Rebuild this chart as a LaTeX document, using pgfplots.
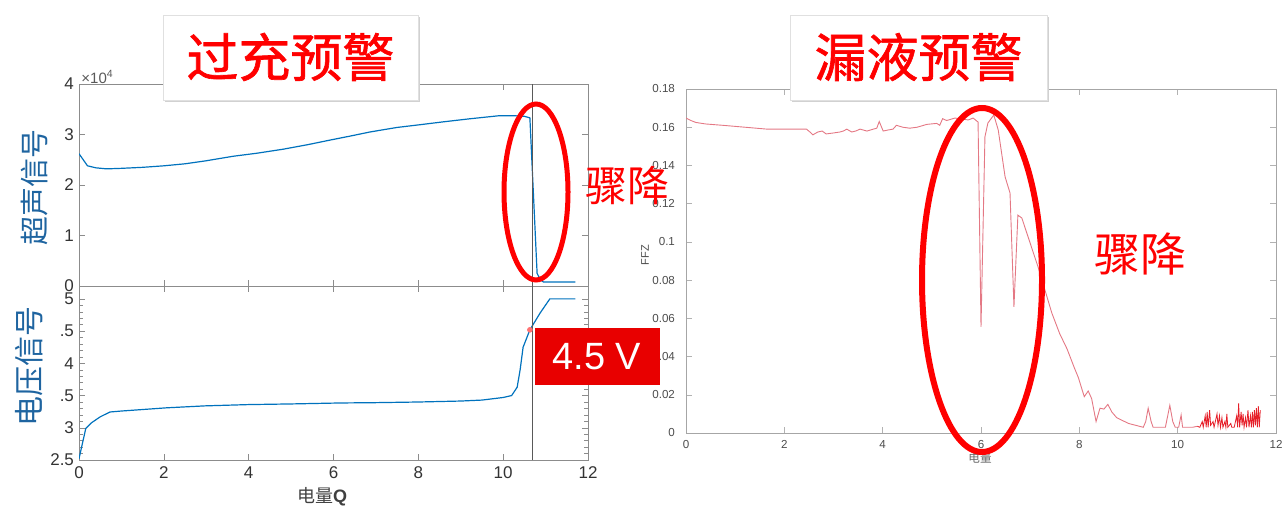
\documentclass[border=0pt]{standalone}
\usepackage{pgfplots}
\pgfplotsset{compat=1.18}
\usepackage{fontspec}
\setmainfont{Liberation Sans}
\newfontfamily\cjk{Noto Sans CJK SC}
\newfontfamily\cjktitle[FakeBold=1.2]{Noto Sans CJK SC}

\definecolor{mblue}{rgb}{0,0.447,0.741}
\definecolor{lblue}{RGB}{30,100,160}
\definecolor{ffzred}{RGB}{228,120,132}
\definecolor{spikered}{RGB}{230,30,40}
\definecolor{boxred}{RGB}{232,0,0}

\pgfplotsset{
  matlab/.style={
    scale only axis, anchor=south west,
    xmin=0, xmax=12,
    tick align=inside, major tick length=3pt, minor tick length=1.8pt,
    axis line style={black!45}, tick style={black!45},
    /pgf/number format/assume math mode=true,
    tick label style={text=black!80},
  }
}

\begin{document}
\begin{tikzpicture}
\useasboundingbox (0,0) rectangle (642pt,255pt);

% ---- ultrasonic signal ----
\begin{axis}[matlab,
  at={(39.5pt,112pt)}, width=254.5pt, height=101pt,
  ymin=0, ymax=40000,
  xtick={0,2,...,12}, xticklabels={},
  ytick={0,10000,20000,30000,40000}, yticklabels={0,1,2,3,4},
  scaled y ticks=false,
  yticklabel style={font=\fontsize{8.5pt}{9pt}\selectfont, xshift=1pt},
]
\addplot[mblue, line width=0.6pt] coordinates {
 (0,26200)(0.1,25000)(0.2,23800)(0.4,23400)(0.65,23200)(1,23300)(1.5,23500)
 (2,23800)(2.5,24200)(3,24800)(3.64,25700)(4.2,26300)(4.82,27100)(5.4,28000)
 (5.92,28900)(6.4,29700)(6.86,30500)(7.5,31400)(8,31900)(8.58,32500)(9.2,33100)
 (9.88,33700)(10.3,33700)(10.5,33600)(10.63,33300)(10.8,2500)(10.88,1200)
 (10.95,800)(11.7,800)};
\addplot[black!65, line width=0.5pt] coordinates {(10.68,0)(10.68,40000)};
\end{axis}

% ---- voltage signal ----
\begin{axis}[matlab,
  at={(39.5pt,25pt)}, width=254.5pt, height=87pt,
  ymin=2.5, ymax=5.2,
  xtick={0,2,...,12},
  ytick={2.5,3,3.5,4,4.5,5}, yticklabels={2.5,3,.5,4,.5,5},
  minor y tick num=4,
  ticklabel style={font=\fontsize{8.5pt}{9pt}\selectfont},
  yticklabel style={xshift=1pt},
]
\addplot[mblue, line width=0.6pt] coordinates {
 (0,2.52)(0.16,2.99)(0.3,3.08)(0.5,3.17)(0.73,3.245)(1,3.26)(2.07,3.31)
 (2.97,3.34)(4,3.36)(5,3.37)(6.16,3.385)(7,3.39)(8,3.40)(9,3.415)(9.5,3.43)
 (10,3.47)(10.2,3.5)(10.33,3.63)(10.4,3.9)(10.47,4.25)(10.63,4.52)(10.87,4.78)
 (11.1,5.0)(11.7,5.0)};
\addplot[black!65, line width=0.5pt] coordinates {(10.68,2.5)(10.68,5.2)};
\addplot[only marks, mark=*, mark size=1.2pt, color=red!55] coordinates {(10.63,4.52)};
\end{axis}

% ---- FFZ ----
\begin{axis}[matlab,
  at={(343pt,38.5pt)}, width=295pt, height=172pt,
  ymin=0, ymax=0.18,
  axis line style={black!35}, tick style={black!30},
  xtick={0,2,...,12},
  ytick={0,0.02,...,0.18},
  yticklabels={0,0.02,0.04,0.06,0.08,0.1,0.12,0.14,0.16,0.18},
  ticklabel style={font=\fontsize{5.8pt}{6pt}\selectfont, text=black!70},
  yticklabel style={xshift=-2pt},
]
\addplot[ffzred, line width=0.45pt] coordinates {
 (0,0.1648)(0.1,0.1635)(0.2,0.1625)(0.4,0.1617)(0.75,0.161)(1.2,0.160)(1.65,0.159)
 (2.0,0.159)(2.45,0.159)(2.52,0.1575)(2.58,0.156)(2.68,0.1575)(2.77,0.158)
 (2.85,0.1565)(3.0,0.157)(3.13,0.1575)(3.2,0.158)(3.27,0.159)(3.37,0.1575)
 (3.45,0.158)(3.54,0.159)(3.68,0.158)(3.81,0.159)(3.88,0.1595)(3.93,0.163)
 (4.01,0.158)(4.1,0.1585)(4.21,0.159)(4.28,0.161)(4.41,0.160)(4.55,0.1595)
 (4.7,0.160)(4.9,0.1615)(5.1,0.162)(5.16,0.161)(5.22,0.1645)(5.3,0.1635)
 (5.47,0.1648)(5.74,0.1638)(5.84,0.1648)(5.94,0.1627)(6.0,0.0555)(6.08,0.155)
 (6.14,0.1622)(6.26,0.1664)(6.35,0.1586)(6.49,0.134)(6.59,0.1256)(6.67,0.066)
 (6.75,0.114)(6.83,0.1125)(7.16,0.0869)(7.44,0.0628)(7.6,0.052)(7.75,0.044)
 (7.9,0.034)(7.98,0.029)(8.1,0.019)(8.18,0.022)(8.25,0.018)(8.34,0.006)
 (8.42,0.013)(8.5,0.0125)(8.58,0.015)(8.66,0.011)(8.76,0.008)(9.0,0.005)
 (9.3,0.003)(9.35,0.006)(9.4,0.013)(9.46,0.006)(9.5,0.003)(9.75,0.003)
 (9.84,0.0145)(9.9,0.006)(9.95,0.003)(10.02,0.003)(10.07,0.0094)(10.1,0.003)
 (10.3,0.003)(10.4,0.0035)};
\addplot[spikered, line width=0.4pt] coordinates {
 (10.4,0.0035)(10.45,0.003)(10.5,0.006)(10.52,0.003)(10.56,0.009)(10.58,0.003)
 (10.6,0.011)(10.62,0.003)(10.65,0.012)(10.67,0.004)(10.72,0.006)(10.74,0.003)
 (10.8,0.010)(10.82,0.004)(10.85,0.009)(10.87,0.003)(10.9,0.008)(10.92,0.003)
 (10.96,0.006)(10.98,0.003)(11.0,0.010)(11.02,0.003)(11.08,0.005)(11.1,0.003)
 (11.15,0.003)(11.2,0.009)(11.22,0.003)(11.24,0.0155)(11.26,0.003)(11.29,0.011)
 (11.31,0.004)(11.33,0.010)(11.35,0.003)(11.38,0.008)(11.4,0.003)(11.43,0.012)
 (11.45,0.003)(11.48,0.009)(11.5,0.003)(11.52,0.011)(11.54,0.003)(11.56,0.012)
 (11.58,0.004)(11.6,0.013)(11.62,0.003)(11.64,0.014)(11.66,0.003)(11.68,0.012)};
\end{axis}

% ---- labels ----
\node[rotate=90, text=lblue, font=\cjk\fontsize{14.5pt}{15pt}\selectfont] at (17.5pt,161.5pt) {超声信号};
\node[rotate=90, text=lblue, font=\cjk\fontsize{15pt}{16pt}\selectfont] at (14.5pt,72pt) {电压信号};
\node[anchor=south west, text=black!65, font=\fontsize{7.5pt}{8pt}\selectfont, inner sep=0pt] at (40.5pt,213pt) {×10\textsuperscript{4}};
\node[text=black!75, font=\fontsize{9pt}{10pt}\selectfont] at (161pt,6.5pt) {{\cjk 电量}\textbf{Q}};
\node[rotate=90, text=black!70, font=\fontsize{5.5pt}{6pt}\selectfont] at (322.5pt,127.5pt) {FFZ};
\node[text=black!60, font=\cjk\fontsize{5.8pt}{6pt}\selectfont] at (490pt,26pt) {电量};

% ---- title boxes ----
\fill[black!18] (82.5pt,204pt) rectangle (210pt,246.5pt);
\fill[white, draw=black!12, line width=0.3pt] (81.5pt,205pt) rectangle (209pt,247.5pt);
\node[text=red, font=\cjktitle\fontsize{26pt}{28pt}\selectfont] at (145.25pt,226.5pt) {过充预警};
\fill[black!18] (396pt,204pt) rectangle (524.5pt,246.5pt);
\fill[white, draw=black!12, line width=0.3pt] (395pt,205pt) rectangle (523.5pt,247.5pt);
\node[text=red, font=\cjktitle\fontsize{26pt}{28pt}\selectfont] at (459.25pt,226.5pt) {漏液预警};

% ---- annotations ----
\draw[red, line width=2.5pt] (268pt,159pt) ellipse [x radius=16pt, y radius=44pt];
\node[text=red, font=\cjk\fontsize{21pt}{22pt}\selectfont] at (313.5pt,162pt) {骤降};
\fill[boxred] (267.5pt,62.5pt) rectangle (330pt,91pt);
\node[text=white, font=\fontsize{19pt}{20pt}\selectfont] at (298.5pt,76.5pt) {4.5 V};
\draw[red, line width=3pt] (491pt,115pt) ellipse [x radius=30pt, y radius=86pt];
\node[text=red, font=\cjk\fontsize{23pt}{24pt}\selectfont] at (570pt,128pt) {骤降};
\end{tikzpicture}
\end{document}
